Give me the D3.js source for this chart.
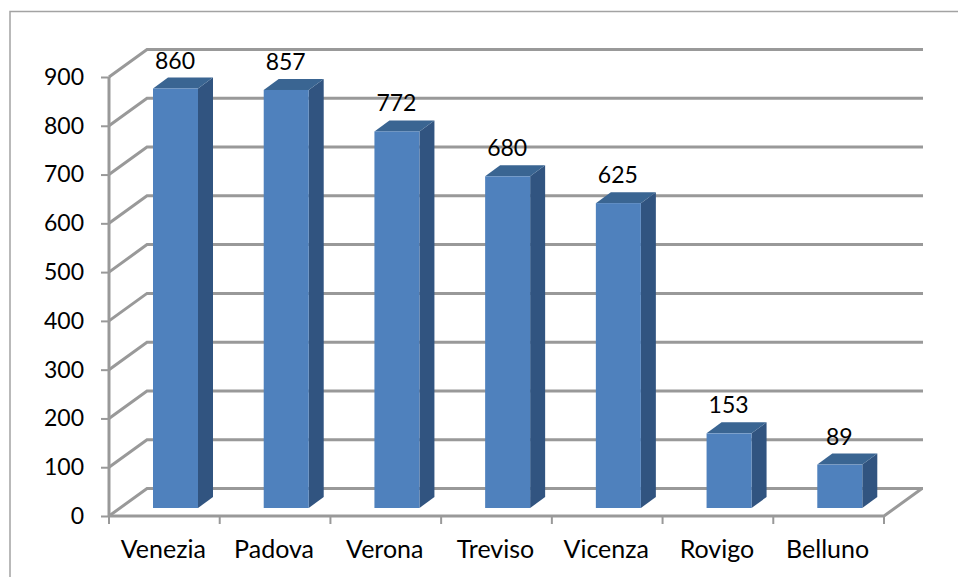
<!DOCTYPE html>
<html>
<head>
<meta charset="utf-8">
<script src="https://cdn.jsdelivr.net/npm/d3@7"></script>
<style>
  html, body { margin: 0; padding: 0; background: #fff; }
  svg { display: block; }
  text { font-family: Lato, "Open Sans", sans-serif; fill: #000; }
</style>
</head>
<body>
<svg id="chart" width="958" height="577"></svg>
<script>
const provinces = ["Venezia", "Padova", "Verona", "Treviso", "Vicenza", "Rovigo", "Belluno"];
const counts = [860, 857, 772, 680, 625, 153, 89];
const yTicks = [0, 100, 200, 300, 400, 500, 600, 700, 800, 900];

const width = 958, height = 577;
const gridColor = "#999999";
const frontColor = "#4f81bd", topColor = "#3a6592", sideColor = "#315480";

// Oblique projection: the back wall sits up and to the right of the front plane.
const wallDx = 38, wallDy = -27.5;
const barDx = 15, barDy = -11;
const barWidth = 45;
const floorGap = 8;

const x = d3.scaleBand().domain(provinces).range([109, 884]);
const y = d3.scaleLinear().domain([0, 900]).range([516, 77]);

const svg = d3.select("#chart");

// Outer frame: top and left edges only
svg.append("path")
  .attr("d", `M${width},11.5H10V${height}`)
  .attr("fill", "none").attr("stroke", "#a3a3a3").attr("stroke-width", 1.5);

const grid = svg.append("g")
  .attr("fill", "none").attr("stroke", gridColor).attr("stroke-width", 3);

// Wall gridlines with their diagonal run across the side wall
grid.selectAll("path.wall").data(yTicks).join("path")
  .attr("class", "wall")
  .attr("d", d => `M${x.range()[0]},${y(d)}l${wallDx},${wallDy}H${x.range()[1] + wallDx + 1}`);

// Floor front edge and right edge
grid.append("path")
  .attr("d", `M${x.range()[0]},${y(0)}H${x.range()[1]}l${wallDx},${wallDy}`);

// Vertical axis line
grid.append("line")
  .attr("x1", x.range()[0]).attr("x2", x.range()[0])
  .attr("y1", y(900)).attr("y2", y(0));

// Value-axis tick marks and labels
const yAxis = d3.axisLeft(y).tickValues(yTicks).tickSize(8).tickPadding(17);
const yG = svg.append("g").attr("transform", `translate(${x.range()[0]},0)`).call(yAxis);
yG.select(".domain").remove();
yG.selectAll("line").attr("stroke", gridColor).attr("stroke-width", 2);
yG.selectAll("text")
  .attr("font-size", 23).style("font-family", "Lato, sans-serif").attr("fill", "#000");

// Category-axis tick marks at the band edges
const bandEdges = provinces.map(p => x(p)).concat(x.range()[1]);
svg.append("g").selectAll("line").data(bandEdges).join("line")
  .attr("x1", d => d).attr("x2", d => d)
  .attr("y1", y(0)).attr("y2", y(0) + 8)
  .attr("stroke", gridColor).attr("stroke-width", 2);

// Category labels
svg.append("g").selectAll("text").data(provinces).join("text")
  .attr("x", d => x(d) + x.bandwidth() / 2 - 1)
  .attr("y", 558)
  .attr("text-anchor", "middle")
  .attr("font-size", 25)
  .text(d => d);

// Bars, each built from front, top and side faces
const barLeft = p => x(p) + 44;
const barTop = v => y(v) - floorGap;
const barBase = y(0) - floorGap;

const bars = svg.append("g").selectAll("g").data(provinces).join("g");

bars.append("path")
  .attr("fill", sideColor)
  .attr("d", (p, i) => {
    const r = barLeft(p) + barWidth;
    return `M${r},${barTop(counts[i])}l${barDx},${barDy}V${barBase + barDy}l${-barDx},${-barDy}Z`;
  });

bars.append("path")
  .attr("fill", topColor)
  .attr("d", (p, i) => {
    const l = barLeft(p), t = barTop(counts[i]);
    return `M${l},${t}l${barDx},${barDy}h${barWidth}l${-barDx},${-barDy}Z`;
  });

bars.append("rect")
  .attr("fill", frontColor)
  .attr("x", barLeft)
  .attr("y", (p, i) => barTop(counts[i]))
  .attr("width", barWidth)
  .attr("height", (p, i) => barBase - barTop(counts[i]));

// Value labels above each bar
bars.append("text")
  .attr("x", p => barLeft(p) + barWidth / 2 - 0.5)
  .attr("y", (p, i) => barTop(counts[i]) - 20)
  .attr("text-anchor", "middle")
  .attr("font-size", 23)
  .text((p, i) => counts[i]);
</script>
</body>
</html>
